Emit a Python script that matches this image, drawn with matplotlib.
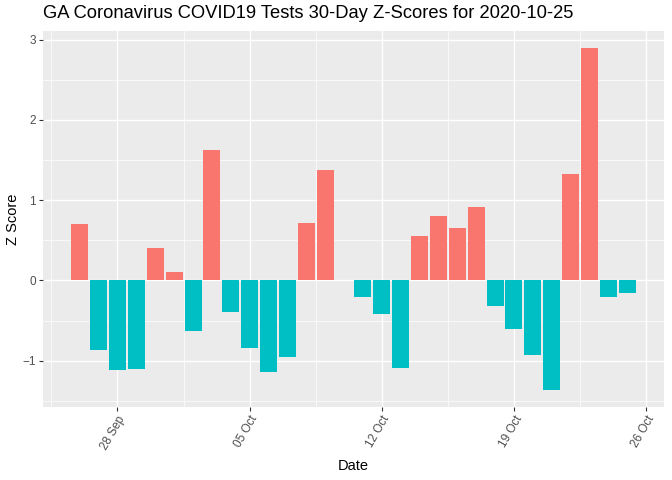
import numpy as np
import pandas as pd
import matplotlib
matplotlib.use('Agg')
import matplotlib.pyplot as plt
import matplotlib.dates as mdates
from matplotlib.ticker import FixedLocator

plt.rcParams['font.family'] = ['Liberation Sans', 'DejaVu Sans']

# Daily 30-day z-scores (Oct 10 has no value)
dates = pd.date_range('2020-09-26', '2020-10-25', freq='D')
z_scores = [0.70, -0.87, -1.11, -1.10, 0.41, 0.11, -0.63, 1.63, -0.39, -0.84,
            -1.14, -0.95, 0.71, 1.37, np.nan, -0.21, -0.42, -1.09, 0.55, 0.80,
            0.65, 0.92, -0.32, -0.60, -0.93, -1.36, 1.33, 2.89, -0.21, -0.15]
tick_dates = pd.to_datetime(['2020-09-28', '2020-10-05', '2020-10-12',
                             '2020-10-19', '2020-10-26'])

z = np.array(z_scores, dtype=float)
colors = np.where(z > 0, '#F8766D', '#00BFC4')

fig = plt.figure(figsize=(6.72, 4.8), dpi=100)
ax = fig.add_axes([43 / 672, 1 - 406.7 / 480, (664 - 43) / 672, (406.7 - 31.4) / 480])
ax.set_facecolor('#EBEBEB')

x = mdates.date2num(dates)
ax.bar(x, np.nan_to_num(z), width=0.9, color=colors, zorder=3)

# ggplot-like limits with 5% expansion
lo, hi = x.min() - 0.45, x.max() + 0.45
pad = (hi - lo) * 0.05
ax.set_xlim(lo - pad, hi + pad)
ymin, ymax = np.nanmin(z), np.nanmax(z)
ypad = (ymax - ymin) * 0.05
ax.set_ylim(ymin - ypad, ymax + ypad)

xt = mdates.date2num(tick_dates)
ax.xaxis.set_major_locator(FixedLocator(xt))
ax.xaxis.set_minor_locator(FixedLocator(np.concatenate([[xt[0] - 3.5], xt[:-1] + 3.5])))
ax.xaxis.set_major_formatter(mdates.DateFormatter('%d %b'))
ax.yaxis.set_major_locator(FixedLocator([-1, 0, 1, 2, 3]))
ax.yaxis.set_minor_locator(FixedLocator([-1.5, -0.5, 0.5, 1.5, 2.5]))

ax.grid(which='major', color='white', lw=1.0, zorder=0)
ax.grid(which='minor', color='white', lw=0.5, zorder=0)
ax.set_axisbelow(True)
for s in ax.spines.values():
    s.set_visible(False)

ax.tick_params(which='major', length=3, width=0.8, color='#333333',
               labelcolor='#4D4D4D', labelsize=8.5, pad=2)
ax.tick_params(which='minor', length=0)
for lab in ax.get_xticklabels():
    lab.set_rotation(60)
    lab.set_ha('right')
    lab.set_va('top')
    lab.set_rotation_mode('anchor')

ax.set_xlabel('Date', fontsize=10.5, labelpad=5)
ax.set_ylabel('Z Score', fontsize=10.5, labelpad=1.5)
fig.text(43 / 672, 1 - 14 / 480, 'GA Coronavirus COVID19 Tests 30-Day Z-Scores for 2020-10-25',
         fontsize=13.2, ha='left', va='center')

fig.savefig('out.png', dpi=100)
